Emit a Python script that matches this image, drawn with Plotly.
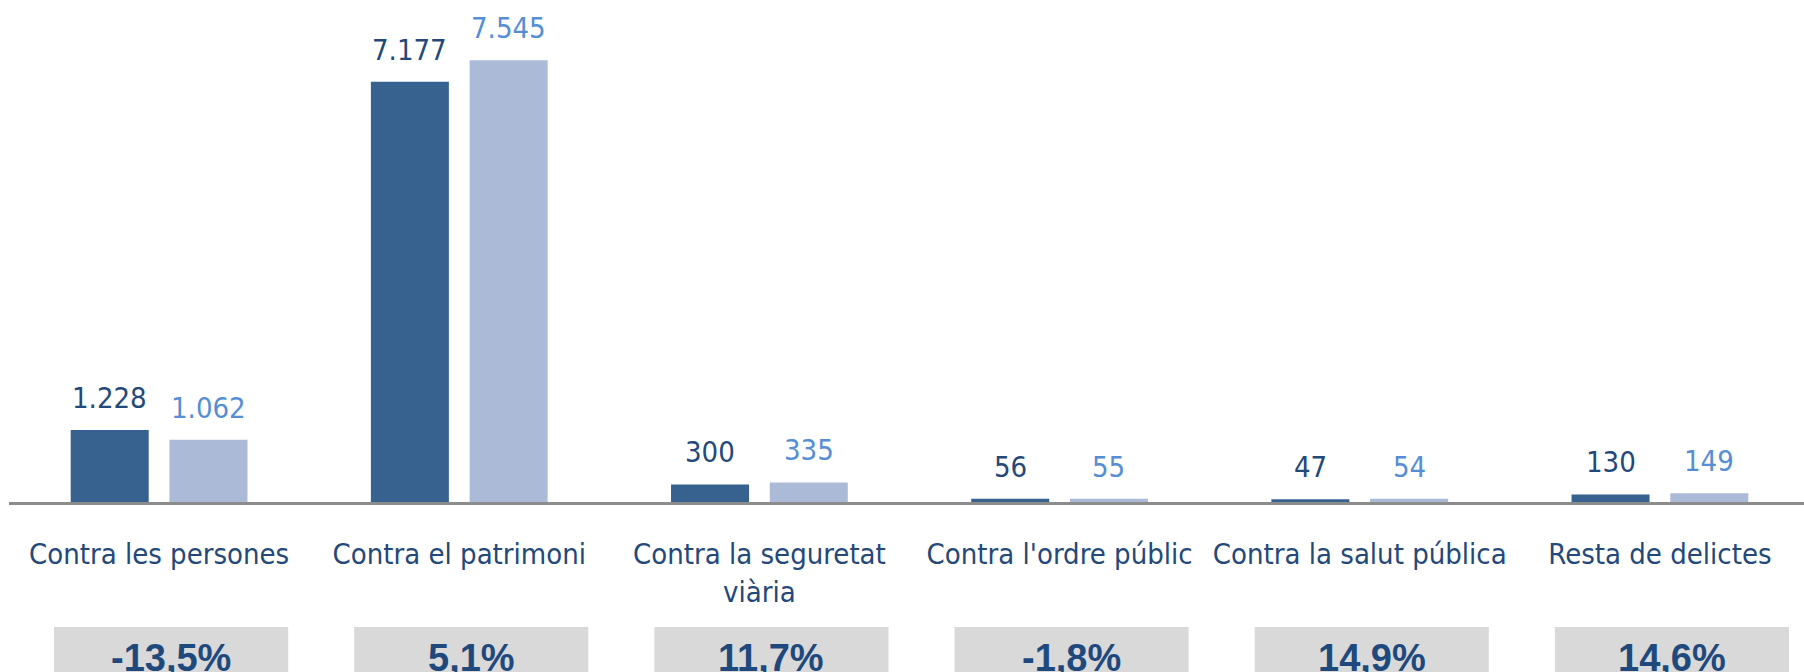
import plotly.graph_objects as go

# ---- data ----
categories = [
    "Contra les persones",
    "Contra el patrimoni",
    "Contra la seguretat<br>viària",
    "Contra l'ordre públic",
    "Contra la salut pública",
    "Resta de delictes",
]
values_prev = [1228, 7177, 300, 56, 47, 130]
values_curr = [1062, 7545, 335, 55, 54, 149]
pct_labels = ["-13,5%", "5,1%", "11,7%", "-1,8%", "14,9%", "14,6%"]

# ---- style ----
DARK_BAR = "#37618F"
LIGHT_BAR = "#ABBAD7"
DARK_TXT = "#23487A"
LIGHT_TXT = "#558ED5"
PCT_TXT = "#1F497D"
BOX = "#D9D9D9"
NARROW = "DejaVu Sans Condensed, Roboto Condensed, Roboto, sans-serif"

W, H = 1804, 672
M_T, M_B = 0, 170
PLOT_H = H - M_T - M_B
BARGAP = 0.342
GROUPGAP = 0.21


def py(ypix):
    """pixel y (from top) -> paper coordinate"""
    return (H - M_B - ypix) / PLOT_H


fig = go.Figure()
fig.add_trace(go.Bar(x=categories, y=values_prev, marker=dict(color=DARK_BAR, line=dict(width=0)),
                     hoverinfo="skip", name="prev"))
fig.add_trace(go.Bar(x=categories, y=values_curr, marker=dict(color=LIGHT_BAR, line=dict(width=0)),
                     hoverinfo="skip", name="curr"))

off = (1 - BARGAP) / 4  # half slot in category units
annotations = []
for i, (a, b) in enumerate(zip(values_prev, values_curr)):
    annotations.append(dict(x=i - off, y=a, xref="x", yref="y", text=f"{a:,}".replace(",", "."),
                            showarrow=False, yanchor="bottom", yshift=13,
                            font=dict(family=NARROW, size=29, color=DARK_TXT)))
    annotations.append(dict(x=i + off, y=b, xref="x", yref="y", text=f"{b:,}".replace(",", "."),
                            showarrow=False, yanchor="bottom", yshift=13,
                            font=dict(family=NARROW, size=29, color=LIGHT_TXT)))

shapes = []
for i, lab in enumerate(pct_labels):
    c = i + 0.04
    shapes.append(dict(type="rect", xref="x", yref="paper", x0=c - 0.39, x1=c + 0.39,
                       y0=py(700), y1=py(627), fillcolor=BOX, line=dict(width=0), layer="below"))
    annotations.append(dict(x=c, y=py(658), xref="x", yref="paper", text=f"<b>{lab}</b>",
                            showarrow=False, yanchor="middle",
                            font=dict(family="Liberation Sans, Arial, sans-serif", size=38, color=PCT_TXT)))

fig.update_layout(
    template="none",
    width=W, height=H,
    margin=dict(l=9, r=0, t=M_T, b=M_B, pad=0),
    paper_bgcolor="white", plot_bgcolor="white",
    barmode="group", bargap=BARGAP, bargroupgap=GROUPGAP,
    showlegend=False,
    annotations=annotations, shapes=shapes,
    xaxis=dict(range=[-0.5, 5.48], showline=True, linecolor="#8C8C8C", linewidth=3,
               ticks="", showgrid=False, zeroline=False, ticklabelstandoff=24,
               automargin=False, tickangle=0,
               tickfont=dict(family=NARROW, size=29, color=DARK_TXT)),
    yaxis=dict(range=[0, 8575], showgrid=False, zeroline=False, showticklabels=False,
               showline=False, ticks="", automargin=False),
)

fig.write_html("out.html")
